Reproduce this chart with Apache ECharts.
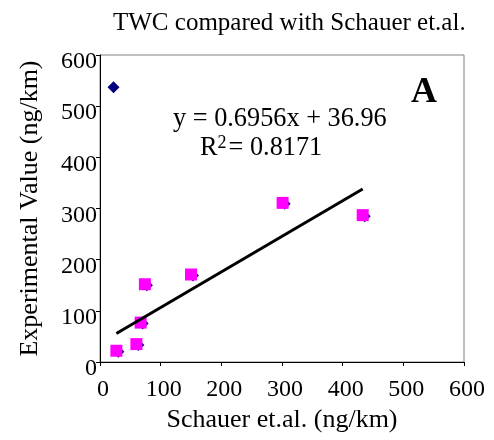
<!DOCTYPE html>
<html lang="en">
<head>
    <meta charset="UTF-8">
    <title>TWC compared with Schauer</title>
    <script src="https://cdn.jsdelivr.net/npm/echarts@6/dist/echarts.min.js"></script>
    <style>
        body { margin: 0; padding: 0; background: #fff; }
        #chart { width: 494px; height: 440px; }
    </style>
</head>
<body>
    <div id="chart"></div>
    <script>
        // Schauer et.al. vs experimental values (ng/km)
        const schauerX = [27, 60, 67, 74, 150, 301, 433];
        const experimentalY = [22, 35, 77, 152, 171, 311, 287];
        // point left out of the fit
        const outlier = [[19, 539]];
        const slope = 0.6956;
        const intercept = 36.96;
        const fitRange = [27, 433];

        const fitted = schauerX.map((x, i) => [x, experimentalY[i]]);
        const allPoints = fitted.concat(outlier);
        const trend = fitRange.map(x => [x, slope * x + intercept]);

        const font = 'Liberation Serif';
        const chart = echarts.init(document.getElementById('chart'));
        chart.setOption({
            animation: false,
            grid: {
                left: 100, top: 55, width: 364, height: 307,
                show: true, borderColor: '#808080', borderWidth: 1
            },
            xAxis: {
                type: 'value', min: 0, max: 600, interval: 100,
                name: 'Schauer et.al. (ng/km)', nameLocation: 'middle', nameGap: 44,
                nameTextStyle: { fontFamily: font, fontSize: 26, color: '#000' },
                axisLine: { lineStyle: { color: '#000', width: 1 } },
                axisTick: { show: true, length: 4, lineStyle: { color: '#000' } },
                axisLabel: { fontFamily: font, fontSize: 24, color: '#000', margin: 16, padding: [0, 0, 0, 6] },
                splitLine: { show: false }
            },
            yAxis: {
                type: 'value', min: 0, max: 600, interval: 100,
                name: 'Experimental Value (ng/km)', nameLocation: 'middle', nameGap: 57,
                nameTextStyle: { fontFamily: font, fontSize: 26, color: '#000' },
                axisLine: { show: true, lineStyle: { color: '#000', width: 1 } },
                axisTick: { show: true, length: 4, lineStyle: { color: '#000' } },
                axisLabel: { fontFamily: font, fontSize: 24, color: '#000', margin: 3, verticalAlign: 'top', lineHeight: 14 },
                splitLine: { show: false }
            },
            graphic: [
                {
                    type: 'text', left: 113, top: 11,
                    style: { text: 'TWC compared with Schauer et.al.', font: '25px "Liberation Serif"', fill: '#000' }
                },
                {
                    type: 'text', left: 173, top: 106,
                    style: { text: 'y = 0.6956x + 36.96', font: '26.3px "Liberation Serif"', fill: '#000' }
                },
                {
                    type: 'text', left: 200, top: 134,
                    style: {
                        text: 'R{sup|2}= 0.8171',
                        font: '26.3px "Liberation Serif"', fill: '#000',
                        rich: { sup: { fontSize: 18, fontFamily: font, verticalAlign: 'top', padding: [0, 2, 10, 0] } }
                    }
                },
                {
                    type: 'text', left: 411, top: 75,
                    style: { text: 'A', font: 'bold 36px "Liberation Serif"', fill: '#000' }
                }
            ],
            series: [
                {
                    type: 'scatter', data: allPoints, symbol: 'diamond', symbolSize: 12,
                    symbolOffset: [2, 1],
                    itemStyle: { color: '#000080', opacity: 1 }, z: 2
                },
                {
                    type: 'scatter', data: fitted, symbol: 'rect', symbolSize: 12,
                    itemStyle: { color: '#ff00ff', opacity: 1 }, z: 3
                },
                {
                    type: 'line', data: trend, symbol: 'none',
                    lineStyle: { color: '#000', width: 3 }, z: 4
                }
            ]
        });
    </script>
</body>
</html>
